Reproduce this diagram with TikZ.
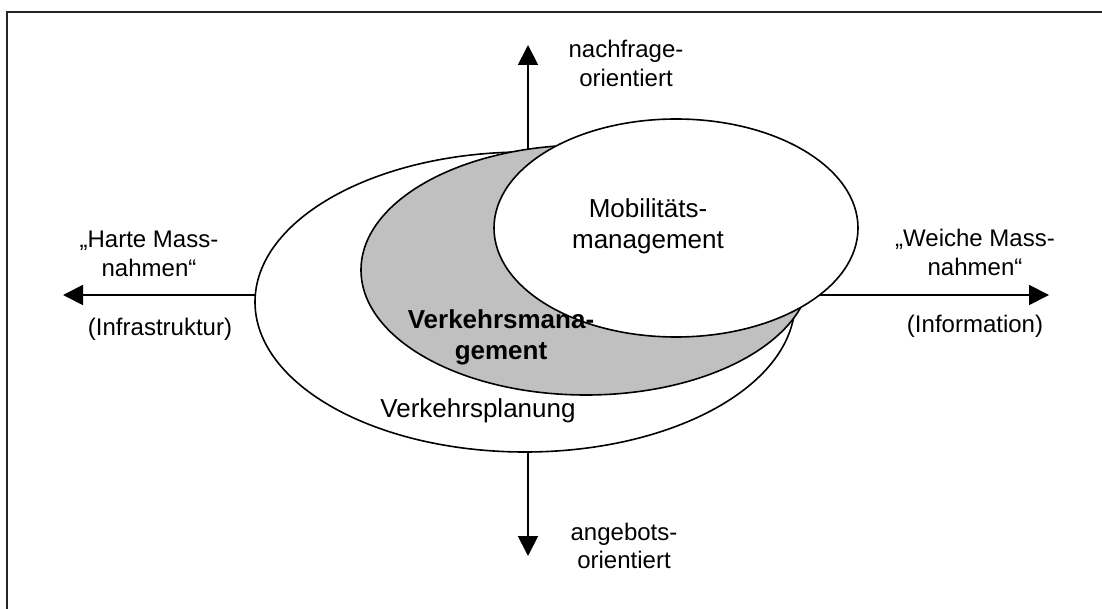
\documentclass[tikz,border=0pt]{standalone}
\usepackage{fontspec}
\setmainfont{Liberation Sans}
\usetikzlibrary{shapes.geometric,arrows.meta}
\pgfdeclarelayer{bg}
\pgfsetlayers{bg,main}
\definecolor{vmgray}{HTML}{C0C0C0}
\newcommand{\twol}[2]{\begin{tabular}[t]{@{}c@{}}#1\\#2\end{tabular}}
\tikzset{
  oval/.style={ellipse, draw=black, line width=1.6pt, inner sep=0pt},
  axisline/.style={line width=1.8pt, -{Triangle[length=20pt,width=20pt]}},
  sidelbl/.style={font=\fontsize{24}{28.5}\selectfont, anchor=base, inner sep=0pt},
  midlbl/.style={font=\fontsize{26}{31}\selectfont, anchor=base, inner sep=0pt},
}
\begin{document}
\begin{tikzpicture}[x=1pt,y=-1pt]
\useasboundingbox (0,0) rectangle (1102,609);
% frame (only top and left edges visible)
\draw[line width=2.5pt, draw=black!85] (7,609) -- (7,12) -- (1102,12);
% ellipses
\node[oval, fill=white, minimum width=540pt, minimum height=300pt] (plan) at (525,302) {};
\node[oval, fill=vmgray, minimum width=450pt, minimum height=250pt] (vm) at (586,270) {};
\node[oval, fill=white, minimum width=364pt, minimum height=218pt] (mob) at (676,228) {};
% arrow tips
\coordinate (ntip) at (528,45);
\coordinate (stip) at (528,556);
\coordinate (wtip) at (63,295);
\coordinate (etip) at (1049,295);
\begin{pgfonlayer}{bg}
\draw[axisline] (ntip |- plan.center) -- (ntip);
\draw[axisline] (stip |- plan.center) -- (stip);
\draw[axisline] (wtip -| plan.center) -- (wtip);
\draw[axisline] (etip -| mob.center) -- (etip);
\end{pgfonlayer}
% labels
\node[sidelbl] (nach) at (626,58) {\twol{nachfrage-}{orientiert}};
\node[sidelbl] (ange) at (624,540) {\twol{angebots-}{orientiert}};
\node[sidelbl] (hart) at (149,248) {\twol{„Harte Mass-}{nahmen“}};
\node[sidelbl] (infra) at (160,335) {(Infrastruktur)};
\node[sidelbl] (weich) at (975,247) {\twol{„Weiche Mass-}{nahmen“}};
\node[sidelbl] (info) at (975,332) {(Information)};
\node[midlbl] (moblbl) at (648,218) {\twol{Mobilitäts-}{management}};
\node[midlbl, font=\fontsize{26}{32}\selectfont\bfseries] (vmlbl) at (501,328) {\twol{Verkehrsmana-}{gement}};
\node[midlbl] (planlbl) at (478,417) {Verkehrsplanung};
\end{tikzpicture}
\end{document}
